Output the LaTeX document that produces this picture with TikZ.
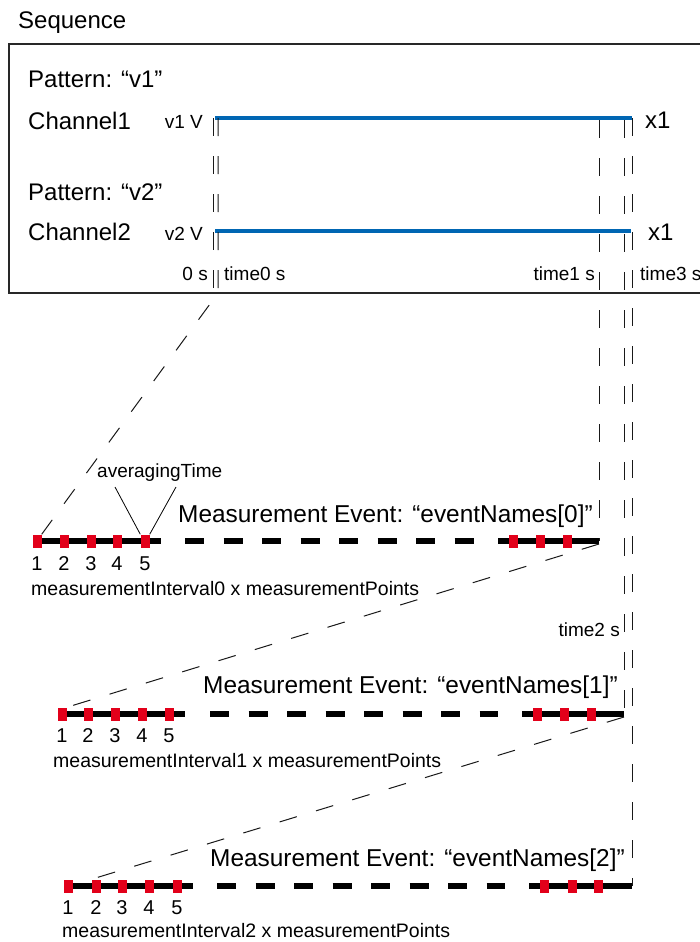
\documentclass[tikz,border=0pt]{standalone}
\usepackage{fontspec}
\setmainfont{Liberation Sans}
\definecolor{mblue}{RGB}{0,102,179}
\definecolor{mred}{RGB}{226,0,26}
\definecolor{frameC}{RGB}{40,40,40}
\tikzset{
  big/.style={inner sep=0pt, font=\fontsize{24}{28}\selectfont},
  evt/.style={inner sep=0pt, font=\fontsize{24.4}{28}\selectfont},
  sm/.style={inner sep=0pt, font=\fontsize{19}{22}\selectfont},
  ivl/.style={inner sep=0pt, font=\fontsize{19.5}{22}\selectfont},
  num/.style={inner sep=0pt, anchor=base, font=\fontsize{20}{22}\selectfont},
  frame/.style={draw=frameC, line width=1.5pt},
  sig/.style={draw=mblue, line width=4.5pt},
  guide/.style={draw=black!90, line width=1pt, dash pattern=on 18pt off 20pt},
  bar/.style={draw=black, line width=6pt},
  bard/.style={draw=black, line width=6pt, dash pattern=on 19pt off 19.5pt},
  mk/.style={rectangle, fill=mred, inner sep=0pt, minimum width=9pt, minimum height=13pt},
  thin/.style={draw=black, line width=0.8pt}
}
\begin{document}
\begin{tikzpicture}[x=1pt,y=-1pt]
\useasboundingbox (0,0) rectangle (700,942);

% ---- Sequence box ----
\node[big, anchor=base west] (seq) at (18,29) {Sequence};
\draw[frame] (9,44) rectangle (715,293);

\node[big, anchor=base west] (pat1) at (28,88) {Pattern: “v1”};
\node[big, anchor=base west] (ch1) at (28,129) {Channel1};
\node[sm, anchor=base east] (v1) at (203,128) {v1 V};
\node[big, anchor=base west] (x1a) at (645,128) {x1};

\node[big, anchor=base west] (pat2) at (28,200) {Pattern: “v2”};
\node[big, anchor=base west] (ch2) at (28,240) {Channel2};
\node[sm, anchor=base east] (v2) at (203,240) {v2 V};
\node[big, anchor=base west] (x1b) at (648,240) {x1};

\node[sm, anchor=base east] (t0s) at (208,280) {0 s};
\node[sm, anchor=base west] (t0l) at (224,280) {time0 s};
\node[sm, anchor=base east] (t1l) at (595,280) {time1 s};
\node[sm, anchor=base west] (t3l) at (640,280) {time3 s};

% signal lines
\coordinate (b1s) at (215,118);
\coordinate (b1e) at (632,118);
\coordinate (b2s) at (215,231);
\coordinate (b2e) at (631,231);
\draw[sig] (b1s) -- (b1e);
\draw[sig] (b2s) -- (b2e);

% ---- Event 0 ----
\coordinate (e0a) at (33,541);
\coordinate (e0b) at (161,541);
\coordinate (e0c) at (185,541);
\coordinate (e0d) at (474,541);
\coordinate (e0e) at (498,541);
\coordinate (e0end) at (599,541);
\coordinate (e0endb) at (599,544);
\draw[bar] (e0a) -- (e0b);
\draw[bard] (e0c) -- (e0d);
\draw[bar] (e0e) -- (e0end);
\foreach \i/\x in {1/37,2/64,3/91,4/117,5/145}{
  \node[mk] (e0m\i) at (\x,541) {};
  \node[num] (e0n\i) at (\x,570) {\i};
}
\foreach \i/\x in {6/513,7/540,8/567}{
  \node[mk] (e0m\i) at (\x,541) {};
}
\node[evt, anchor=base west] (ev0) at (178,522) {Measurement Event: “eventNames[0]”};
\node[ivl, anchor=base west] (iv0) at (31,595) {measurementInterval0 x measurementPoints};
\node[sm, anchor=base west] (avg) at (97,477) {averagingTime};
\coordinate (avgL) at (115,487);
\coordinate (avgR) at (176,487);
\draw[thin] (avgL) -- (e0m5.north west);
\draw[thin] (avgR) -- (e0m5.north east);

% ---- Event 1 ----
\coordinate (e1a) at (58,714);
\coordinate (e1b) at (185,714);
\coordinate (e1c) at (210,714);
\coordinate (e1d) at (498,714);
\coordinate (e1e) at (522,714);
\coordinate (e1end) at (624,714);
\coordinate (e1endb) at (624,717);
\draw[bar] (e1a) -- (e1b);
\draw[bard] (e1c) -- (e1d);
\draw[bar] (e1e) -- (e1end);
\foreach \i/\x in {1/62,2/88,3/115,4/142,5/169}{
  \node[mk] (e1m\i) at (\x,714) {};
  \node[num] (e1n\i) at (\x,742) {\i};
}
\foreach \i/\x in {6/537,7/564,8/591}{
  \node[mk] (e1m\i) at (\x,714) {};
}
\node[evt, anchor=base west] (ev1) at (203,693) {Measurement Event: “eventNames[1]”};
\node[ivl, anchor=base west] (iv1) at (53,767) {measurementInterval1 x measurementPoints};

% ---- Event 2 ----
\coordinate (e2a) at (64,886);
\coordinate (e2b) at (193,886);
\coordinate (e2c) at (217,886);
\coordinate (e2d) at (505,886);
\coordinate (e2e) at (529,886);
\coordinate (e2end) at (632,886);
\draw[bar] (e2a) -- (e2b);
\draw[bard] (e2c) -- (e2d);
\draw[bar] (e2e) -- (e2end);
\foreach \i/\x in {1/68,2/96,3/122,4/149,5/177}{
  \node[mk] (e2m\i) at (\x,886) {};
  \node[num] (e2n\i) at (\x,914) {\i};
}
\foreach \i/\x in {6/544,7/572,8/598}{
  \node[mk] (e2m\i) at (\x,886) {};
}
\node[evt, anchor=base west] (ev2) at (210,866) {Measurement Event: “eventNames[2]”};
\node[ivl, anchor=base west] (iv2) at (62,937) {measurementInterval2 x measurementPoints};

\node[sm, anchor=base east] (t2l) at (620,636) {time2 s};

% ---- guide lines ----
\coordinate (g0top) at (213,118);
\coordinate (g0bot) at (213,290);
\coordinate (g1top) at (218,118);
\coordinate (t0b) at (218,293);
\coordinate (r1top) at (599,120);
\coordinate (r2top) at (624,120);
\coordinate (r3top) at (632,118);
\draw[guide] (g0top) -- (g0bot);
\draw[guide] (g1top) -- (t0b) -- (e0m1.north east);
\draw[guide] (r1top) -- (e0end);
\draw[guide] (r2top) -- (e1end);
\draw[guide] (r3top) -- (e2end);
\draw[guide] (e0endb) -- (e1m1.north east);
\draw[guide] (e1endb) -- (e2m2.north west);
\end{tikzpicture}
\end{document}
